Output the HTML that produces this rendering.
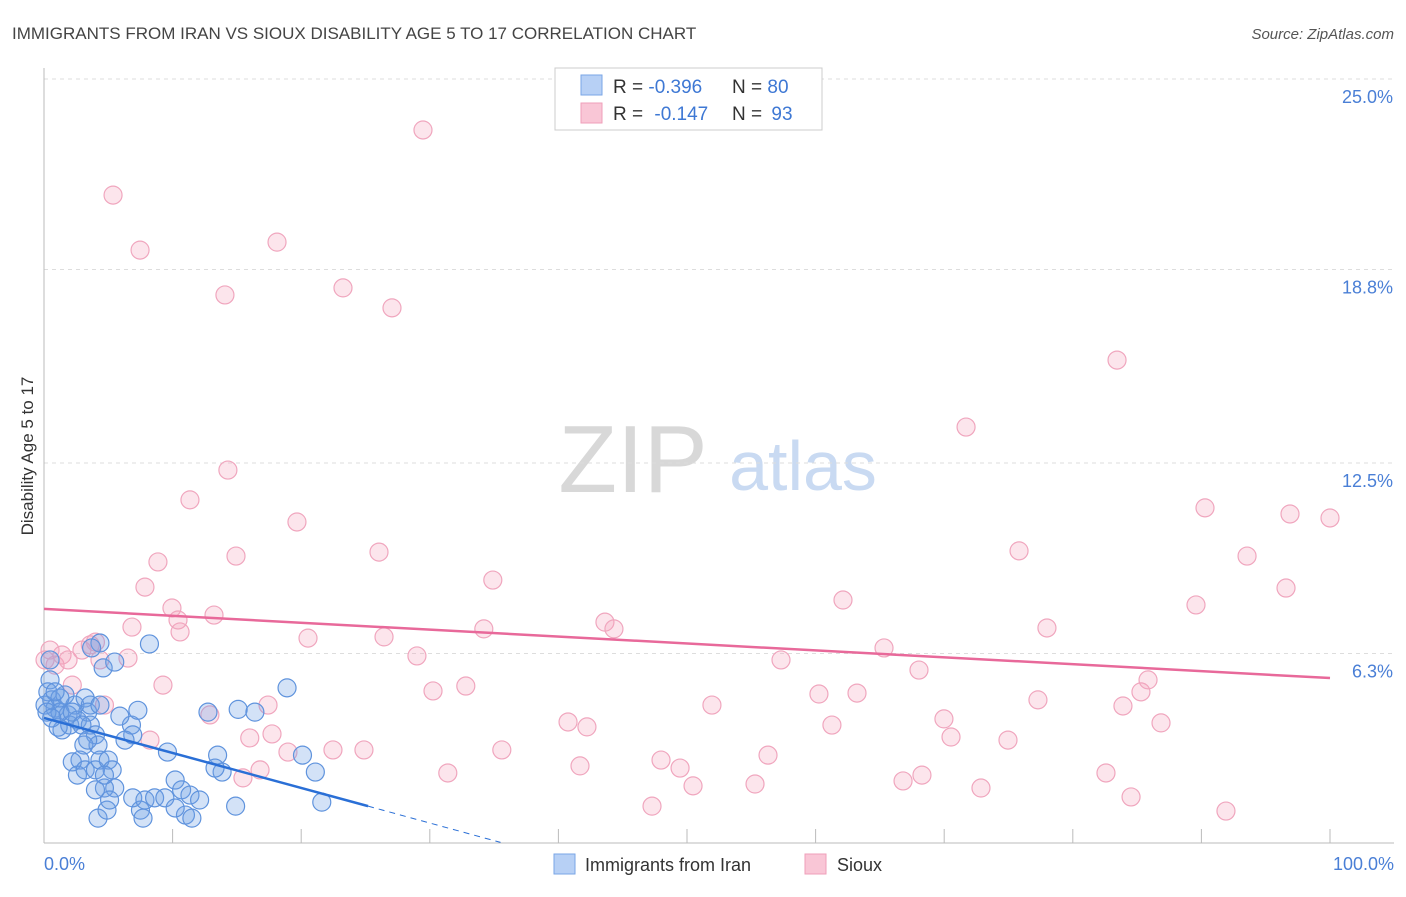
<!DOCTYPE html>
<html><head><meta charset="utf-8"><style>
body{margin:0;background:#fff;font-family:"Liberation Sans",sans-serif;}
svg text{font-family:"Liberation Sans",sans-serif;}
</style></head><body>
<svg id="chart" width="1406" height="892" viewBox="0 0 1406 892" xmlns="http://www.w3.org/2000/svg">
<text x="12" y="39" font-size="17" fill="#444">IMMIGRANTS FROM IRAN VS SIOUX DISABILITY AGE 5 TO 17 CORRELATION CHART</text>
<text x="1394" y="39" font-size="15" fill="#555" font-style="italic" text-anchor="end">Source: ZipAtlas.com</text>
<text transform="translate(33,456) rotate(-90)" font-size="17" fill="#333" text-anchor="middle">Disability Age 5 to 17</text>
<g>
<text x="633" y="492" font-size="96" fill="#d8d8d8" font-family="Liberation Serif" text-anchor="middle">ZIP</text>
<text x="803" y="490" font-size="70" fill="#c9daf2" text-anchor="middle">atlas</text>
</g>
<g id="grid"></g>
<line x1="44" y1="68" x2="44" y2="843" stroke="#bbb"/>
<line x1="44" y1="843" x2="1394" y2="843" stroke="#bbb"/>
<g id="ticks"></g>
<g id="pts"></g>
<g id="trends"></g>
<text x="44" y="870" font-size="18" fill="#4a7fd6">0.0%</text>
<text x="1394" y="870" font-size="18" fill="#4a7fd6" text-anchor="end">100.0%</text>
<g>
<rect x="555" y="68" width="267" height="62" fill="#fff" stroke="#ccc"/>
<rect x="581" y="75" width="21" height="20" fill="#b7d0f5" stroke="#7aa6e6"/>
<rect x="581" y="103" width="21" height="20" fill="#f9c6d6" stroke="#ef9fb9"/>
<text x="613" y="93" font-size="19" fill="#333">R = <tspan fill="#3e78d4">-0.396</tspan></text>
<text x="732" y="93" font-size="19" fill="#333">N = <tspan fill="#3e78d4">80</tspan></text>
<text x="613" y="120" font-size="19" fill="#333">R = <tspan fill="#3e78d4" dx="6">-0.147</tspan></text>
<text x="732" y="120" font-size="19" fill="#333">N = <tspan fill="#3e78d4" dx="4">93</tspan></text>
</g>
<g>
<rect x="554" y="854" width="21" height="20" fill="#b7d0f5" stroke="#7aa6e6"/>
<text x="585" y="871" font-size="18" fill="#333">Immigrants from Iran</text>
<rect x="805" y="854" width="21" height="20" fill="#f9c6d6" stroke="#ef9fb9"/>
<text x="837" y="871" font-size="18" fill="#333">Sioux</text>
</g>
</svg>
<script>
const yTicks=[25.0,18.8,12.5,6.3];
const yTickLabels=["25.0%","18.8%","12.5%","6.3%"];
const xTicks=[10,20,30,40,50,60,70,80,90,100];
const iranX=[0.47,0.47,0.3,0.6,0.86,1.24,1.63,1.87,1.4,2.0,2.4,2.6,3.2,3.4,3.6,4.0,4.2,3.1,2.8,2.2,2.6,3.2,4.0,4.35,5.0,5.3,5.5,4.7,4.2,4.9,7.5,7.7,6.9,7.85,8.6,9.4,10.2,10.7,11.35,12.1,11.0,11.5,9.6,6.8,6.9,7.3,6.3,4.35,4.6,5.5,3.7,8.2,12.75,13.5,13.85,15.1,16.4,14.9,18.9,20.1,21.1,21.6,1.24,1.1,0.08,0.23,0.6,2.2,3.6,4.35,1.24,2.95,4.7,13.3,5.9,0.86,5.1,4.0,10.2,3.4];
const iranY=[6.09,5.44,5.05,4.79,4.52,4.39,4.95,4.30,3.81,3.97,4.62,4.13,4.85,4.39,3.97,3.65,3.32,3.32,2.83,2.77,2.34,2.51,2.51,2.83,2.83,2.51,1.92,1.92,0.94,1.2,1.2,0.94,1.6,1.53,1.6,1.6,2.18,1.86,1.69,1.53,1.04,0.94,3.09,3.97,3.65,4.45,3.48,6.64,5.83,6.02,6.48,6.61,4.39,2.99,2.44,4.48,4.39,1.33,5.18,2.99,2.44,1.46,4.39,3.9,4.62,4.39,4.2,4.39,4.62,4.62,4.85,3.97,2.34,2.57,4.26,5.05,1.53,1.86,1.27,3.48];
const siouxX=[0.86,0.08,1.4,1.87,2.2,2.95,3.6,4.0,4.35,4.7,0.47,5.37,7.47,14.07,18.12,23.25,27.06,29.47,83.44,71.7,14.3,11.35,19.67,14.93,26.05,8.86,7.85,9.95,13.22,6.84,10.58,10.42,6.53,9.25,12.9,8.24,16.0,17.73,17.42,16.8,15.47,18.97,20.53,22.47,24.88,26.44,29.0,30.25,32.8,34.2,34.9,35.6,31.4,40.75,41.68,42.22,43.62,44.32,47.28,47.98,49.46,50.47,51.94,55.29,56.3,57.31,60.26,61.27,62.13,63.22,65.32,66.8,68.27,68.04,69.98,70.53,72.86,74.96,75.82,77.29,77.99,82.58,83.9,84.53,85.3,85.85,86.86,89.58,90.28,91.91,93.55,96.58,96.89,100.0];
const siouxY=[5.92,6.09,6.25,6.09,5.27,6.41,6.58,6.67,6.09,4.62,6.41,21.22,19.43,17.97,19.69,18.2,17.55,23.34,15.85,13.67,12.27,11.3,10.58,9.47,9.6,9.28,8.46,7.78,7.55,7.16,7.0,7.39,6.15,5.27,4.3,3.48,3.55,3.68,4.62,2.51,2.25,3.09,6.8,3.16,3.16,6.84,6.22,5.08,5.24,7.1,8.69,3.16,2.41,4.07,2.64,3.91,7.32,7.1,1.33,2.83,2.57,1.99,4.62,2.05,2.99,6.09,4.98,3.97,8.04,5.01,6.48,2.15,2.34,5.76,4.17,3.58,1.92,3.48,9.64,4.79,7.13,2.41,4.59,1.63,5.05,5.44,4.04,7.88,11.04,1.17,9.47,8.43,10.84,10.71];
const iranTrend=[[0,4.2],[25.2,1.33]];
const iranTrendExt=[[25.2,1.33],[35.5,0.15]];
const siouxTrend=[[0,7.75],[100,5.5]];
const NS="http://www.w3.org/2000/svg";
const X=v=>44+v*12.86;
const Y=v=>847-v*30.72;
function mk(tag,attrs,parent){const e=document.createElementNS(NS,tag);for(const k in attrs)e.setAttribute(k,attrs[k]);parent.appendChild(e);return e;}
const grid=document.getElementById('grid');
yTicks.forEach((t,i)=>{
 const l=mk('line',{x1:44,x2:1394,y1:Y(t),y2:Y(t),stroke:'#ddd','stroke-dasharray':'4,4'},grid);
 
 
 const tx=mk('text',{x:1393,y:Y(t)+24,'font-size':18,fill:'#4a7fd6','text-anchor':'end'},grid);
 tx.textContent=yTickLabels[i];
 
 
});
const tk=document.getElementById('ticks');
xTicks.forEach(t=>{
 const l=mk('line',{x1:X(t),x2:X(t),y1:829,y2:843,stroke:'#bbb'},tk);
 
 
});
const pts=document.getElementById('pts');
siouxX.forEach((x,i)=>{
 const c=mk('circle',{cx:X(x),cy:Y(siouxY[i]),r:9,fill:'rgba(244,160,188,0.28)',stroke:'#f0a6be','stroke-width':1.2},pts);
 
 
});
iranX.forEach((x,i)=>{
 const c=mk('circle',{cx:X(x),cy:Y(iranY[i]),r:9,fill:'rgba(110,160,230,0.3)',stroke:'#5f93dd','stroke-width':1.2},pts);
 
 
});
const tr=document.getElementById('trends');
const a=mk('line',{x1:X(siouxTrend[0][0]),y1:Y(siouxTrend[0][1]),x2:X(siouxTrend[1][0]),y2:Y(siouxTrend[1][1]),stroke:'#e8699a','stroke-width':2.5},tr);


const b=mk('line',{x1:X(iranTrend[0][0]),y1:Y(iranTrend[0][1]),x2:X(iranTrend[1][0]),y2:Y(iranTrend[1][1]),stroke:'#2a6fd6','stroke-width':2.5},tr);


const d=mk('line',{x1:X(iranTrendExt[0][0]),y1:Y(iranTrendExt[0][1]),x2:X(iranTrendExt[1][0]),y2:Y(iranTrendExt[1][1]),stroke:'#2a6fd6','stroke-width':1,'stroke-dasharray':'6,5'},tr);


</script>
</body></html>
